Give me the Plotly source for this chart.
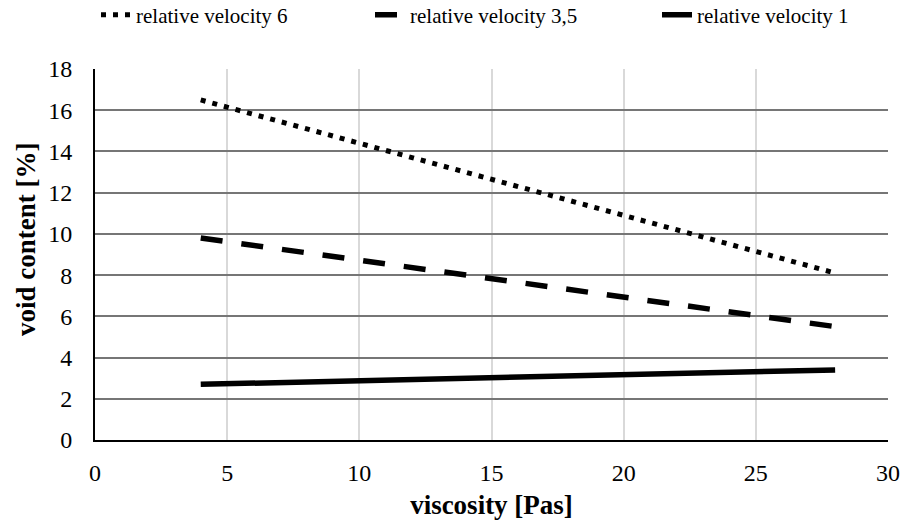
import plotly.graph_objects as go

viscosity = [4, 28]
names = ["relative velocity 6", "relative velocity 3,5", "relative velocity 1"]
v6 = [16.5, 8.1]
v35 = [9.8, 5.5]
v1 = [2.7, 3.4]

styles = [
    dict(color="black", width=5, dash="5px,7px"),
    dict(color="black", width=5.5, dash="22px,19px"),
    dict(color="black", width=5.5, dash="solid"),
]
legend_ids = ["legend", "legend2", "legend3"]

fig = go.Figure()
for name, ys, st, lg in zip(names, [v6, v35, v1], styles, legend_ids):
    fig.add_trace(go.Scatter(x=viscosity, y=ys, mode="lines", name=name, line=st, legend=lg))

font = "'Times New Roman', Times, 'Liberation Serif', serif"
leg_common = dict(orientation="h", xref="container", yref="paper", y=1.1456,
                  xanchor="left", yanchor="middle", font=dict(size=21, family=font),
                  bgcolor="rgba(0,0,0,0)")
fig.update_layout(
    width=903, height=527,
    paper_bgcolor="white", plot_bgcolor="white",
    margin=dict(l=95, r=15, t=69, b=87, autoexpand=False),
    font=dict(family=font, color="black"),
    showlegend=True,
    legend=dict(x=96 / 903, **leg_common),
    legend2=dict(x=370 / 903, **leg_common),
    legend3=dict(x=657 / 903, **leg_common),
    xaxis=dict(range=[0, 30], dtick=5, tick0=0, showgrid=True, gridcolor="#d9d9d9", gridwidth=2,
               showline=True, linecolor="black", linewidth=2, zeroline=False, ticks="",
               automargin=False, ticklabelstandoff=10,
               tickfont=dict(size=24, family=font),
               title=dict(text="<b>viscosity [Pas]</b>", font=dict(size=27, family=font), standoff=10)),
    yaxis=dict(range=[0, 18], dtick=2, tick0=0, showgrid=True, gridcolor="#767676", gridwidth=2,
               showline=True, linecolor="black", linewidth=2, zeroline=False, ticks="",
               automargin=False,
               tickfont=dict(size=24, family=font), ticklabelstandoff=16),
    annotations=[dict(text="<b>void content [%]</b>", textangle=-90, showarrow=False,
                      xref="paper", yref="paper", x=(26 - 95) / 793, y=(440 - 240) / 371,
                      xanchor="center", yanchor="middle",
                      font=dict(size=27, family=font, color="black"))],
)
fig.write_html("out.html", config={"displayModeBar": False},
               post_script="document.body.style.margin='0';")
